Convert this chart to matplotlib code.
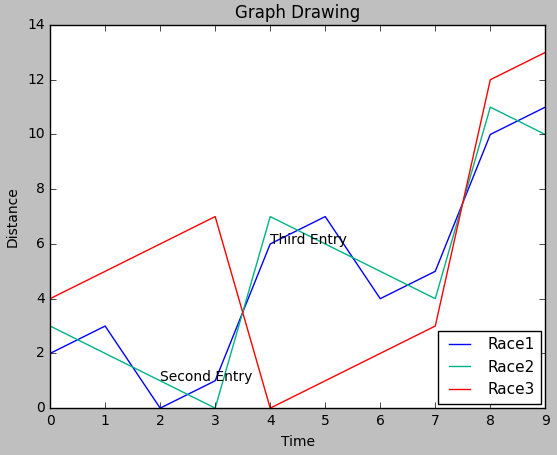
import matplotlib
matplotlib.use("Agg")
import matplotlib.pyplot as plt

time = list(range(10))
race1 = [2, 3, 0, 1, 6, 7, 4, 5, 10, 11]
race2 = [3, 2, 1, 0, 7, 6, 5, 4, 11, 10]
race3 = [4, 5, 6, 7, 0, 1, 2, 3, 12, 13]
notes = [("Second Entry", 2, 1), ("Third Entry", 4, 6)]

plt.style.use("classic")
fig = plt.figure(figsize=(5.57, 4.55), dpi=100, facecolor="#bfbfbf")
ax = fig.add_axes([0.09, 0.103, 0.889, 0.842])
ax.plot(time, race1, color="blue", label="Race1")
ax.plot(time, race2, color="#00b386", label="Race2")
ax.plot(time, race3, color="red", label="Race3")
for text, x, y in notes:
    ax.text(x, y, text, fontsize=10)
ax.set_xlim(0, 9)
ax.set_ylim(0, 14)
ax.set_title("Graph Drawing", fontsize=12)
ax.set_xlabel("Time", fontsize=10)
ax.set_ylabel("Distance", fontsize=10)
ax.tick_params(labelsize=10)
ax.legend(loc="lower right", fontsize=11, borderaxespad=0.3)
fig.savefig("out.png", facecolor=fig.get_facecolor())
